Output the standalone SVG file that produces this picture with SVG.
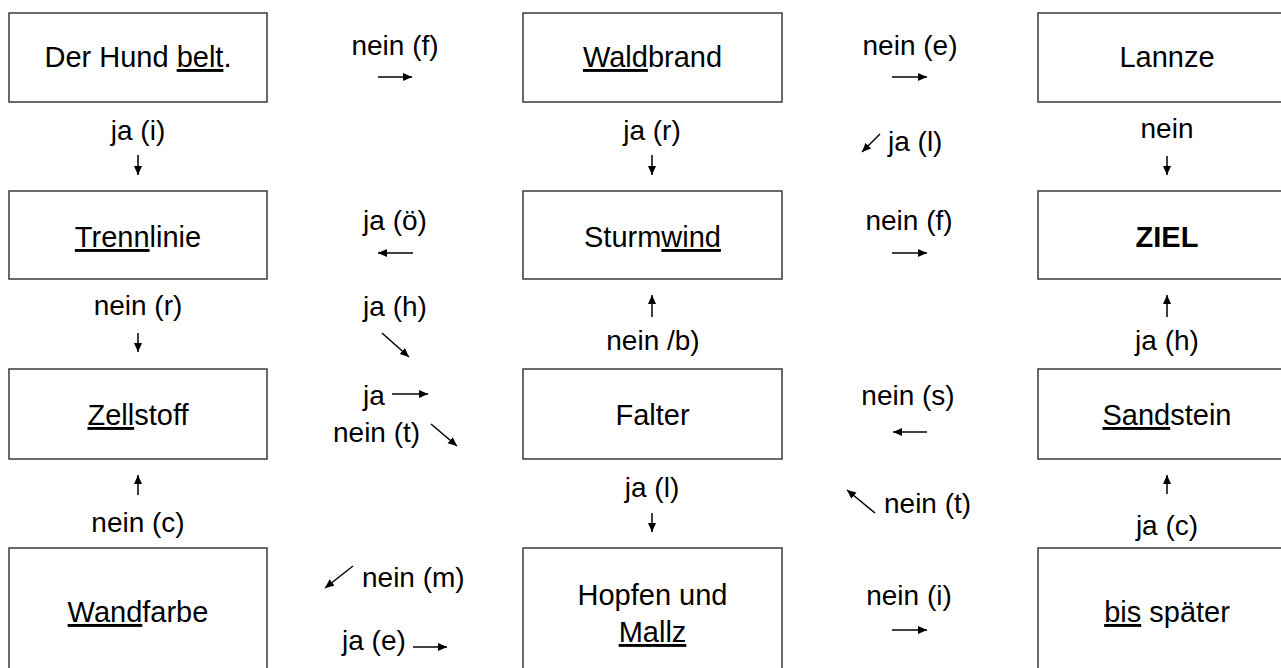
<svg xmlns="http://www.w3.org/2000/svg" width="1281" height="668" viewBox="0 0 1281 668">
<style>
.box{fill:#fff;stroke:#3a3a3a;stroke-width:1.5}
.bt{font-family:"Liberation Sans",Arial,sans-serif;font-size:29px;fill:#000;text-anchor:middle}
.lb{font-family:"Liberation Sans",Arial,sans-serif;font-size:28px;fill:#000}
.c{text-anchor:middle}
.u{text-decoration:underline}
.ar{stroke:#000;stroke-width:1.5;fill:none;marker-end:url(#ah)}
</style>
<defs>
<marker id="ah" markerUnits="userSpaceOnUse" markerWidth="10" markerHeight="9" refX="9" refY="4" orient="auto">
<path d="M0,0 L9,4 L0,8 z" fill="#000"/>
</marker>
</defs>
<rect width="1281" height="668" fill="#fff"/>

<g id="n-hund"><rect class="box" x="9" y="13" width="258" height="89"/><text class="bt" x="138" y="67">Der Hund <tspan class="u">belt</tspan>.</text></g>
<g id="n-waldbrand"><rect class="box" x="523" y="13" width="259" height="89"/><text class="bt" x="652.5" y="67"><tspan class="u">Wald</tspan>brand</text></g>
<g id="n-lannze"><rect class="box" x="1038" y="13" width="258" height="89"/><text class="bt" x="1167" y="67">Lannze</text></g>

<g id="n-trennlinie"><rect class="box" x="9" y="191" width="258" height="88"/><text class="bt" x="138" y="247"><tspan class="u">Trenn</tspan>linie</text></g>
<g id="n-sturmwind"><rect class="box" x="523" y="191" width="259" height="88"/><text class="bt" x="652.5" y="247">Sturm<tspan class="u">wind</tspan></text></g>
<g id="n-ziel"><rect class="box" x="1038" y="191" width="258" height="88"/><text class="bt" x="1167" y="247" font-weight="bold">ZIEL</text></g>

<g id="n-zellstoff"><rect class="box" x="9" y="369" width="258" height="90"/><text class="bt" x="138" y="425"><tspan class="u">Zell</tspan>stoff</text></g>
<g id="n-falter"><rect class="box" x="523" y="369" width="259" height="90"/><text class="bt" x="652.5" y="425">Falter</text></g>
<g id="n-sandstein"><rect class="box" x="1038" y="369" width="258" height="90"/><text class="bt" x="1167" y="425"><tspan class="u">Sand</tspan>stein</text></g>

<g id="n-wandfarbe"><rect class="box" x="9" y="548" width="258" height="140"/><text class="bt" x="138" y="622"><tspan class="u">Wand</tspan>farbe</text></g>
<g id="n-hopfen"><rect class="box" x="523" y="548" width="259" height="140"/><text class="bt" x="652.5" y="605">Hopfen und</text><text class="bt" x="652.5" y="642"><tspan class="u">Mallz</tspan></text></g>
<g id="n-bis"><rect class="box" x="1038" y="548" width="258" height="140"/><text class="bt" x="1167" y="622"><tspan class="u">bis</tspan> später</text></g>

<g id="connectors">
<line class="ar" x1="378" y1="77" x2="412" y2="77"/>
<line class="ar" x1="892" y1="77" x2="927" y2="77"/>
<line class="ar" x1="138" y1="155" x2="138" y2="175"/>
<line class="ar" x1="652" y1="155" x2="652" y2="175"/>
<line class="ar" x1="880" y1="134" x2="862" y2="152"/>
<line class="ar" x1="1167" y1="156" x2="1167" y2="175"/>
<line class="ar" x1="413" y1="253" x2="378" y2="253"/>
<line class="ar" x1="892" y1="253" x2="927" y2="253"/>
<line class="ar" x1="138" y1="333" x2="138" y2="352"/>
<line class="ar" x1="382" y1="333" x2="409" y2="357"/>
<line class="ar" x1="652" y1="317" x2="652" y2="295"/>
<line class="ar" x1="1167" y1="317" x2="1167" y2="295"/>
<line class="ar" x1="392" y1="394" x2="428" y2="394"/>
<line class="ar" x1="431" y1="424" x2="457" y2="446"/>
<line class="ar" x1="927" y1="432" x2="893" y2="432"/>
<line class="ar" x1="138" y1="495" x2="138" y2="475"/>
<line class="ar" x1="652" y1="513" x2="652" y2="532"/>
<line class="ar" x1="875" y1="513" x2="847" y2="490"/>
<line class="ar" x1="1167" y1="494" x2="1167" y2="475"/>
<line class="ar" x1="353" y1="566" x2="325" y2="588"/>
<line class="ar" x1="413" y1="647" x2="447" y2="647"/>
<line class="ar" x1="892" y1="630" x2="927" y2="630"/>
</g>

<g id="labels">
<text class="lb c" x="395" y="55">nein (f)</text>
<text class="lb c" x="910" y="55">nein (e)</text>
<text class="lb c" x="138" y="140">ja (i)</text>
<text class="lb c" x="652" y="140">ja (r)</text>
<text class="lb" x="888" y="151">ja (l)</text>
<text class="lb c" x="1167" y="138">nein</text>
<text class="lb c" x="395" y="230">ja (ö)</text>
<text class="lb c" x="909" y="230">nein (f)</text>
<text class="lb c" x="138" y="315">nein (r)</text>
<text class="lb c" x="395" y="316">ja (h)</text>
<text class="lb c" x="653" y="350">nein /b)</text>
<text class="lb c" x="1167" y="350">ja (h)</text>
<text class="lb" x="363" y="405">ja</text>
<text class="lb" x="333" y="442">nein (t)</text>
<text class="lb c" x="908" y="405">nein (s)</text>
<text class="lb c" x="652" y="497">ja (l)</text>
<text class="lb" x="884" y="513">nein (t)</text>
<text class="lb c" x="138" y="532">nein (c)</text>
<text class="lb c" x="1167" y="535">ja (c)</text>
<text class="lb" x="362" y="587">nein (m)</text>
<text class="lb" x="342" y="650">ja (e)</text>
<text class="lb c" x="909" y="605">nein (i)</text>
</g>
</svg>
